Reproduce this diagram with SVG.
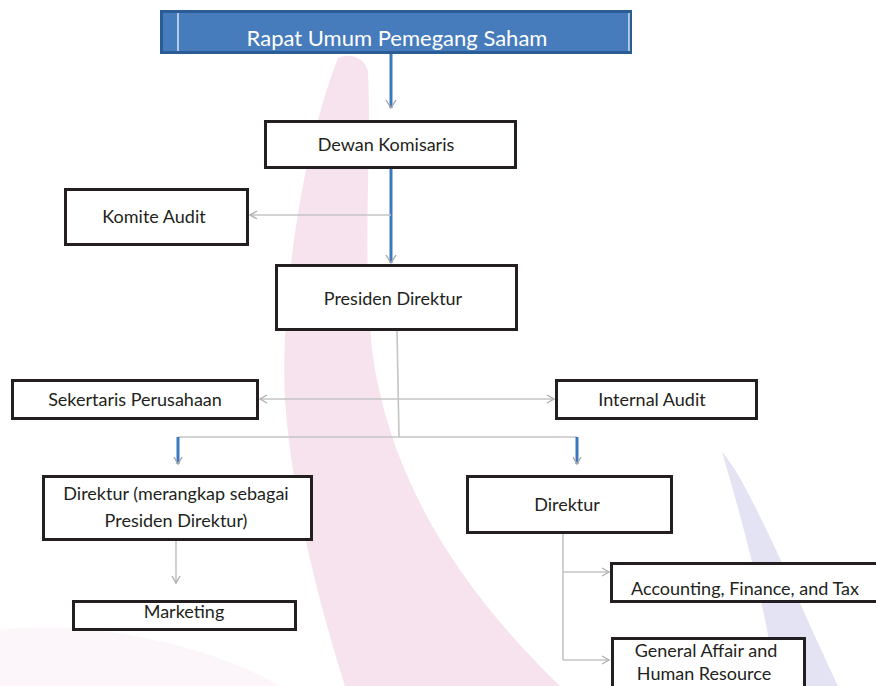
<svg xmlns="http://www.w3.org/2000/svg" width="876" height="686" viewBox="0 0 876 686">
<style>
.box{fill:#ffffff;stroke:#231f20;stroke-width:3}
.t{font-family:Lato,"Liberation Sans",sans-serif;font-size:18px;fill:#231f20;text-anchor:middle}
.c{fill:none;stroke:#c4c4c4;stroke-width:1.6}
.b{fill:none;stroke:#3c78c0;stroke-width:3}
.ch{fill:none;stroke:#a8a8a8;stroke-width:1.4}
</style>
<defs>
<marker id="ar" markerWidth="10" markerHeight="10" refX="8" refY="5" orient="auto" markerUnits="userSpaceOnUse">
<path d="M1,1 L8,5 L1,9" fill="none" stroke="#b0b0b0" stroke-width="1.4"/>
</marker>
<marker id="as" markerWidth="10" markerHeight="10" refX="2" refY="5" orient="auto" markerUnits="userSpaceOnUse">
<path d="M9,1 L2,5 L9,9" fill="none" stroke="#b0b0b0" stroke-width="1.4"/>
</marker>
</defs>
<rect width="876" height="686" fill="#ffffff"/>
<g id="watermark">
<path d="M0,630 C80,620 200,640 280,686 L0,686 Z" fill="#fcf5f9"/>
<path d="M338,58 C350,52 366,58 368,72 C372,150 362,250 372,350 C388,470 450,580 560,686 L345,686 C318,600 292,500 285,400 C280,300 302,150 338,58 Z" fill="#f7e3ee"/>
<path d="M722,452 C740,472 762,520 790,580 C808,622 826,660 838,686 L776,686 C768,620 748,540 722,452 Z" fill="#e3e3f4"/>
</g>
<g id="connectors">
<path class="b" d="M391,53 V108"/>
<path class="ch" d="M386,100 L391,108 L396,100"/>
<path class="b" d="M391,168 V263"/>
<path class="ch" d="M386,255 L391,263 L396,255"/>
<path class="c" d="M391,215 H250" marker-end="url(#ar)"/>
<path class="c" d="M397,330 L399,437"/>
<path class="c" d="M260,399 H554" marker-start="url(#as)" marker-end="url(#ar)"/>
<path class="c" d="M178,437 H577"/>
<path class="b" d="M178,437 V464"/>
<path class="ch" d="M174,457 L178,464 L182,457"/>
<path class="b" d="M577,437 V464"/>
<path class="ch" d="M573,457 L577,464 L581,457"/>
<path class="c" d="M176,541 V583" marker-end="url(#ar)"/>
<path class="c" d="M563,534 V660"/>
<path class="c" d="M563,572 H609" marker-end="url(#ar)"/>
<path class="c" d="M563,660 H609" marker-end="url(#ar)"/>
</g>
<g id="rups">
<rect x="161.5" y="11.5" width="469" height="41" fill="#477cbc" stroke="#2a5d96" stroke-width="3"/>
<line x1="178" y1="13" x2="178" y2="51" stroke="#ffffff" stroke-width="1.2"/>
<line x1="629" y1="13" x2="629" y2="51" stroke="#ffffff" stroke-width="1.2"/>
<text x="397" y="46" font-family="Lato,'Liberation Sans',sans-serif" font-size="22" fill="#ffffff" text-anchor="middle">Rapat Umum Pemegang Saham</text>
</g>
<g id="dewan">
<rect class="box" x="265.5" y="121.5" width="250" height="46"/>
<text class="t" x="386" y="151">Dewan Komisaris</text>
</g>
<g id="komite">
<rect class="box" x="65.5" y="189.5" width="182" height="55"/>
<text class="t" x="154" y="223">Komite Audit</text>
</g>
<g id="presiden">
<rect class="box" x="276.5" y="265.5" width="240" height="64"/>
<text class="t" x="393" y="305">Presiden Direktur</text>
</g>
<g id="sekertaris">
<rect class="box" x="12.5" y="380.5" width="245" height="38"/>
<text class="t" x="135" y="406">Sekertaris Perusahaan</text>
</g>
<g id="internal">
<rect class="box" x="556.5" y="380.5" width="200" height="38"/>
<text class="t" x="652" y="406">Internal Audit</text>
</g>
<g id="direktur1">
<rect class="box" x="43.5" y="476.5" width="268" height="63"/>
<text class="t" x="176" y="500">Direktur (merangkap sebagai</text>
<text class="t" x="176" y="527">Presiden Direktur)</text>
</g>
<g id="marketing">
<rect class="box" x="73.5" y="601.5" width="222" height="28"/>
<text class="t" x="184" y="618">Marketing</text>
</g>
<g id="direktur2">
<rect class="box" x="467.5" y="476.5" width="204" height="56"/>
<text class="t" x="567" y="511">Direktur</text>
</g>
<g id="accounting">
<rect class="box" x="611.5" y="563.5" width="270" height="38"/>
<text class="t" x="745" y="595">Accounting, Finance, and Tax</text>
</g>
<g id="general">
<rect class="box" x="612.5" y="638.5" width="192" height="60"/>
<text class="t" x="706" y="657">General Affair and</text>
<text class="t" x="704" y="680">Human Resource</text>
</g>
</svg>
